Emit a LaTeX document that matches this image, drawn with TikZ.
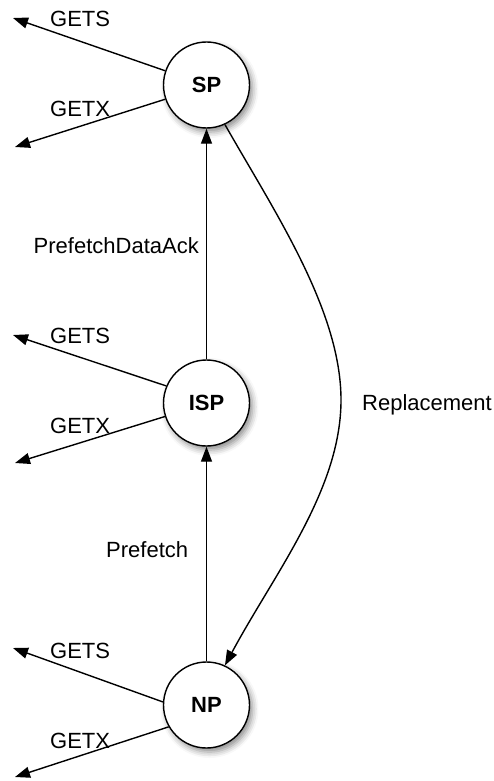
\documentclass[tikz,border=0pt]{standalone}
\usepackage{fontspec}
\setmainfont{Liberation Sans}
\usetikzlibrary{arrows.meta,shadows.blur}
\begin{document}
\begin{tikzpicture}[x=1pt,y=-1pt,
  state/.style={circle,draw=black,line width=1.4pt,fill=white,minimum size=86pt,inner sep=0pt,
    font=\fontsize{22}{24}\selectfont\bfseries,
    blur shadow={shadow xshift=3pt,shadow yshift=-4pt,shadow blur radius=6pt,shadow opacity=45}},
  lbl/.style={inner sep=0pt,font=\fontsize{22}{24}\selectfont},
  edge/.style={line width=1.4pt,-{Triangle[length=15pt,width=11pt]}}]
\useasboundingbox (0,0) rectangle (494,781);

% states
\node[state] (SP)  at (206.5,85)  {SP};
\node[state] (ISP) at (206.5,403) {ISP};
\node[state] (NP)  at (206.5,705) {NP};

% free ends of the outgoing requests
\coordinate (sp-s)  at (13,18);
\coordinate (sp-x)  at (15,147);
\coordinate (isp-s) at (13,335);
\coordinate (isp-x) at (15,463);
\coordinate (np-s)  at (13,648);
\coordinate (np-x)  at (15,777);

\draw[edge] (SP.161)  -- (sp-s);
\draw[edge] (SP.199)  -- (sp-x);
\draw[edge] (ISP.157) -- (isp-s);
\draw[edge] (ISP.198) -- (isp-x);
\draw[edge] (NP.176)  -- (np-s);
\draw[edge] (NP.210)  -- (np-x);

\node[lbl,anchor=base west] (l1) at (50,27)  {GETS};
\node[lbl,anchor=base west] (l2) at (50,117) {GETX};
\node[lbl,anchor=base west] (l3) at (50,343) {GETS};
\node[lbl,anchor=base west] (l4) at (50,433) {GETX};
\node[lbl,anchor=base west] (l5) at (50,658) {GETS};
\node[lbl,anchor=base west] (l6) at (50,748) {GETX};

% transitions between states
\draw[edge] (ISP) -- (SP);
\draw[edge] (NP) -- (ISP);
\node[lbl,anchor=base east] (pda) at (199,253) {PrefetchDataAck};
\node[lbl,anchor=base west] (pf)  at (106,557) {Prefetch};

\coordinate (rm) at (341,400);
\draw[edge] (SP.295) .. controls (274,211) and (341,310) .. (rm)
                     .. controls (341,490) and (274,574) .. (NP.65);
\node[lbl,anchor=base west] (rep) at (362,410) {Replacement};
\end{tikzpicture}
\end{document}
